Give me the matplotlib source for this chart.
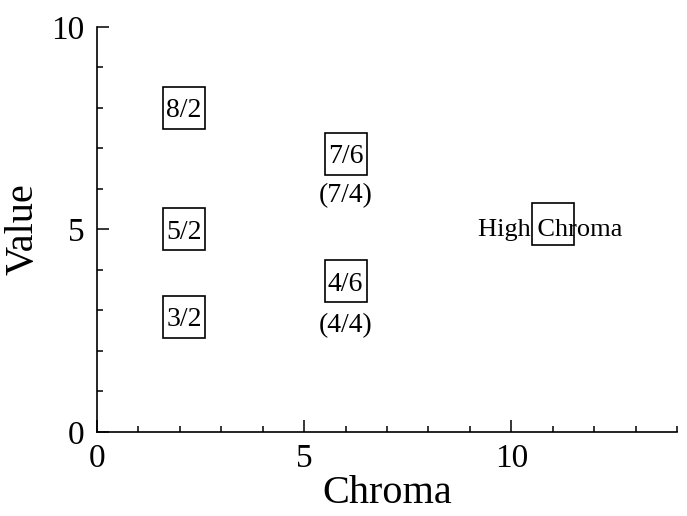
import matplotlib
matplotlib.use('Agg')
import matplotlib.pyplot as plt
from matplotlib.ticker import MultipleLocator

plt.rcParams['font.family'] = ['Liberation Serif', 'DejaVu Serif']

# boxed samples: (chroma, value, label)
box_chroma = [2.1, 2.1, 2.1, 6.0, 6.0]
box_value = [8.0, 5.0, 2.85, 6.87, 3.72]
box_labels = ['8/2', '5/2', '3/2', '7/6', '4/6']

# secondary labels under some boxes
sub_chroma = [6.0, 6.0]
sub_value = [5.9, 2.7]
sub_labels = ['(7/4)', '(4/4)']

# high chroma marker and its label
high_chroma = [11.0]
high_value = [5.13]
high_text_x = 10.93
high_text_y = 5.04
high_label = 'High Chroma'

fig = plt.figure(figsize=(6.87, 5.16), dpi=100)
ax = fig.add_axes([0.1412, 0.1628, 0.8443, 0.7849])

ax.plot(box_chroma, box_value, linestyle='none', marker='s', markersize=30,
        markerfacecolor='none', markeredgecolor='black', markeredgewidth=1.2)
for x, y, s in zip(box_chroma, box_value, box_labels):
    ax.text(x, y, s, ha='center', va='center_baseline', fontsize=20)

for x, y, s in zip(sub_chroma, sub_value, sub_labels):
    ax.text(x, y, s, ha='center', va='center_baseline', fontsize=20)

ax.plot(high_chroma, high_value, linestyle='none', marker='s', markersize=30,
        markerfacecolor='none', markeredgecolor='black', markeredgewidth=1.2)
ax.text(high_text_x, high_text_y, high_label, ha='center', va='center_baseline', fontsize=19)

ax.set_xlim(0, 14)
ax.set_ylim(0, 10)
ax.xaxis.set_major_locator(MultipleLocator(5))
ax.xaxis.set_minor_locator(MultipleLocator(1))
ax.yaxis.set_major_locator(MultipleLocator(5))
ax.yaxis.set_minor_locator(MultipleLocator(1))

for side in ['top', 'right']:
    ax.spines[side].set_visible(False)
for side in ['left', 'bottom']:
    ax.spines[side].set_linewidth(1.2)

ax.tick_params(which='major', direction='in', length=8.5, width=1.1,
               labelsize=24, pad=8)
ax.tick_params(axis='y', which='major', pad=9)
ax.tick_params(which='minor', direction='in', length=4, width=1.1)

ax.set_xlabel('Chroma', fontsize=29, labelpad=1)
ax.set_ylabel('Value', fontsize=29)
ax.yaxis.set_label_coords(-0.095, 0.5)

fig.savefig('out.png', dpi=100)
